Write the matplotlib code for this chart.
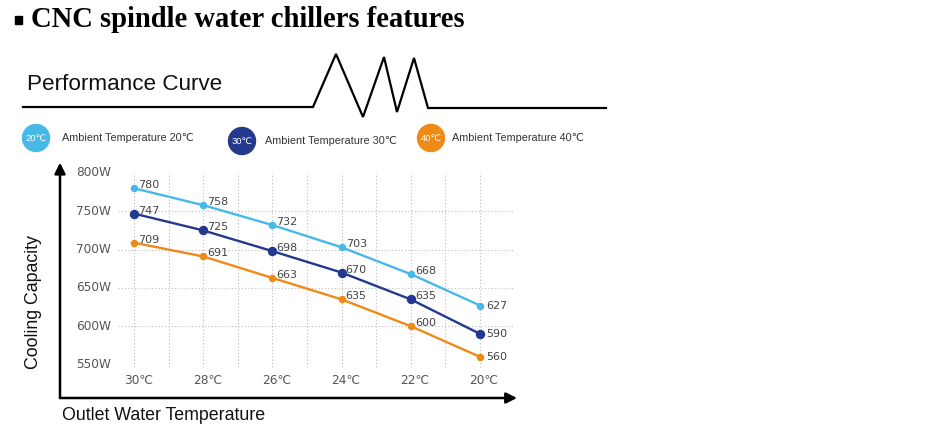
import matplotlib
matplotlib.use("Agg")
from matplotlib import pyplot as plt
from matplotlib.patches import Circle, Rectangle

# outlet water temperature (x) and cooling capacity (W) per ambient temperature
outlet_temps = [30, 28, 26, 24, 22, 20]
x_labels = ["30℃", "28℃", "26℃", "24℃", "22℃", "20℃"]
cap_20 = [780, 758, 732, 703, 668, 627]
cap_30 = [747, 725, 698, 670, 635, 590]
cap_40 = [709, 691, 663, 635, 600, 560]
y_ticks = [800, 750, 700, 650, 600, 550]
y_grid = [750, 700, 650, 600]
x_grid = list(range(20, 31))

series = [
    ("20℃", "Ambient Temperature 20℃", cap_20, "#47b9e9", 4.4),
    ("30℃", "Ambient Temperature 30℃", cap_30, "#24398d", 5.8),
    ("40℃", "Ambient Temperature 40℃", cap_40, "#ef8a17", 4.4),
]

SANS = ["Liberation Sans", "DejaVu Sans"]

fig = plt.figure(figsize=(9.5, 4.36), dpi=100)
fig.patch.set_facecolor("white")

# overlay in pixel coordinates for the decorations
ov = fig.add_axes([0, 0, 1, 1])
ov.set_xlim(0, 950)
ov.set_ylim(436, 0)
ov.axis("off")

ov.add_patch(Rectangle((15, 16), 7, 8, color="black"))
ov.text(31, 27, "CNC spindle water chillers features", family="Liberation Serif",
        weight="bold", fontsize=20.6, va="baseline", ha="left")
ov.text(27, 90, "Performance Curve", family=SANS, fontsize=16.2, va="baseline",
        ha="left", color="#111111")
zig_x = [23, 313, 336, 363, 384, 397, 414, 428, 606]
zig_y = [107, 107, 54, 117, 57, 112, 58, 108, 108]
ov.plot(zig_x, zig_y, color="black", lw=1.6, solid_joinstyle="miter")

legend_pos = [(36, 138, 62), (242, 141, 265), (431, 138, 452)]
for (short, long_, _, color, _), (cx, cy, tx) in zip(series, legend_pos):
    ov.add_patch(Circle((cx, cy), 13.5, color=color))
    ov.text(cx, cy, short, color="white", fontsize=6.8, ha="center", va="center",
            family=SANS)
    ov.text(tx, cy, long_, color="#333333", fontsize=7.8, ha="left", va="center",
            family=SANS)

# data axes
ax = fig.add_axes([60 / 950, 38 / 436, 457 / 950, 233 / 436])
ax.patch.set_alpha(0)
ax.set_xlim(32.14, 18.93)
ax.set_ylim(506.3, 810.4)
ax.axis("off")

grid_kw = dict(colors="#bbbbbb", linestyles=(0, (1, 2)), lw=0.8, zorder=1)
ax.vlines(x_grid, 546.7, 800, **grid_kw)
ax.hlines(y_grid, 30.46, 19.05, **grid_kw)

for _, _, vals, color, ms in series:
    ax.plot(outlet_temps, vals, color=color, lw=1.7, marker="o", ms=ms, zorder=3)
    for i, (t, v) in enumerate(zip(outlet_temps, vals)):
        if i == len(vals) - 1:
            ax.annotate(str(v), (t, v), xytext=(6, 0), textcoords="offset pixels",
                        ha="left", va="center", fontsize=8, color="#444444",
                        family="DejaVu Sans")
        else:
            ax.annotate(str(v), (t, v), xytext=(4, 0), textcoords="offset pixels",
                        ha="left", va="baseline", fontsize=8, color="#444444",
                        family="DejaVu Sans")

for v in y_ticks:
    ax.text(30.66, v, f"{v}W", ha="right", va="center", fontsize=8.7,
            color="#555555", family="DejaVu Sans")
for t, lab in zip(outlet_temps, x_labels):
    ax.annotate(lab, (t, 528.5), xytext=(4, 0), textcoords="offset pixels",
                ha="center", va="center", fontsize=8.7, color="#555555",
                family="DejaVu Sans")

arrow = dict(arrowstyle="-|>", lw=1.8, color="black", mutation_scale=16,
             shrinkA=0, shrinkB=0)
ax.annotate("", xy=(0, 1.01), xytext=(0, 0), xycoords="axes fraction",
            arrowprops=arrow, annotation_clip=False)
ax.annotate("", xy=(1.0, 0), xytext=(0, 0), xycoords="axes fraction",
            arrowprops=arrow, annotation_clip=False)

ov.text(33, 302, "Cooling Capacity", rotation=90, ha="center", va="center",
        fontsize=12.8, family=SANS, color="#111111")
ov.text(62, 415, "Outlet Water Temperature", ha="left", va="center",
        fontsize=12.8, family=SANS, color="#111111")

fig.savefig("out.png", dpi=100)
